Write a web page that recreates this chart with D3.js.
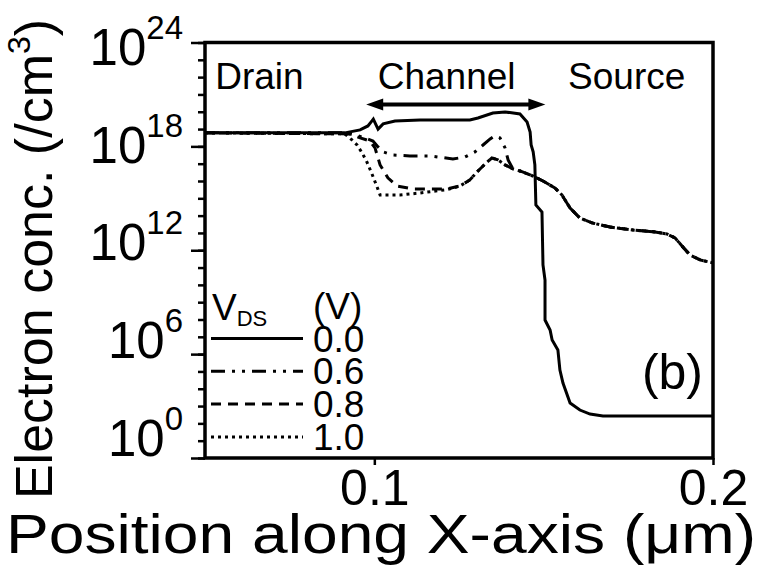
<!DOCTYPE html>
<html>
<head>
<meta charset="utf-8">
<script src="https://cdn.jsdelivr.net/npm/d3@7"></script>
<style>
  body { margin: 0; background: #fff; }
  text { font-family: "Liberation Sans", Arial, sans-serif; fill: #000; }
</style>
</head>
<body>
<svg id="chart" width="760" height="567"></svg>
<script>
// position (um), log10 of electron concentration (/cm^3)
var curveV00 = [[0.0500,18.78],[0.0913,18.78],[0.0958,18.95],[0.0981,19.18],[0.0993,19.47],[0.0997,19.57],
  [0.1011,19.00],[0.1026,19.30],[0.1061,19.47],[0.1135,19.53],[0.1282,19.53],[0.1306,19.64],[0.1350,19.93],
  [0.1386,19.99],[0.1430,19.87],[0.1451,19.41],[0.1460,18.83],[0.1463,18.08],[0.1469,17.68],[0.1474,16.93],
  [0.1477,14.62],[0.1495,14.21],[0.1498,11.15],[0.1504,10.28],[0.1504,7.97],[0.1519,7.39],[0.1525,6.82],
  [0.1542,6.24],[0.1548,5.08],[0.1557,4.33],[0.1578,3.18],[0.1607,2.77],[0.1637,2.54],[0.1675,2.43],[0.2000,2.43]];

var curveV06 = [[0.0500,18.78],[0.0913,18.78],[0.0943,18.66],[0.0972,18.49],[0.0996,18.31],[0.1011,17.97],
  [0.1026,17.68],[0.1055,17.50],[0.1105,17.45],[0.1164,17.45],[0.1232,17.27],[0.1268,17.39],[0.1297,17.68],
  [0.1321,18.08],[0.1342,18.43],[0.1356,18.61],[0.1371,18.49],[0.1386,17.91],[0.1395,17.22],[0.1409,16.70]];

var curveV08 = [[0.0500,18.78],[0.0928,18.72],[0.0958,18.49],[0.0987,18.31],[0.1002,17.91],[0.1017,16.93],
  [0.1040,16.18],[0.1067,15.71],[0.1114,15.54],[0.1214,15.54],[0.1253,15.71],[0.1282,16.06],[0.1303,16.52],
  [0.1327,16.98],[0.1347,17.33],[0.1365,17.22],[0.1386,16.93],[0.1409,16.70]];

var curveV10 = [[0.0500,18.78],[0.0913,18.72],[0.0934,18.37],[0.0949,18.08],[0.0964,17.62],[0.0978,17.10],
  [0.0993,16.41],[0.1008,15.66],[0.1017,15.19],[0.1076,15.19],[0.1135,15.31],[0.1214,15.50],[0.1253,15.71],
  [0.1282,16.06],[0.1303,16.52],[0.1327,16.98],[0.1347,17.33],[0.1365,17.22],[0.1386,16.93],[0.1409,16.70]];

// shared source-side tail of the biased curves
var tailBiased = [[0.1430,16.58],[0.1468,16.29],[0.1498,16.00],[0.1533,15.60],[0.1554,15.19],[0.1578,14.44],
  [0.1607,13.86],[0.1643,13.58],[0.1696,13.34],[0.1764,13.17],[0.1829,13.06],[0.1864,12.94],[0.1888,12.71],
  [0.1911,12.19],[0.1932,11.73],[0.1962,11.44],[0.2000,11.27]];

var vdsLabels = ["0.0", "0.6", "0.8", "1.0"];
var dashes = [null, "14,7,3,7,3,7", "10,7", "3,4"];
var yMajorExp = [0, 6, 12, 18, 24];
var yMinorExp = d3.range(0, 25);
var xTicks = [0.1, 0.2];
var regions = [{ name: "Drain", x: 0.0530 }, { name: "Channel", x: 0.1010 }, { name: "Source", x: 0.1572 }];
var channelSpan = [0.0976, 0.1505];

var series = [curveV00, curveV06.concat(tailBiased), curveV08.concat(tailBiased), curveV10.concat(tailBiased)];

var svg = d3.select("#chart");
var margin = { left: 205, right: 47, top: 42.5, bottom: 109 };
var width = 760 - margin.left - margin.right;
var height = 567 - margin.top - margin.bottom;

var x = d3.scaleLinear().domain([0.05, 0.2]).range([0, width]);
var y = d3.scaleLog().domain([1, 1e24]).range([height, 0]);

var g = svg.append("g").attr("transform", "translate(" + margin.left + "," + margin.top + ")");

g.append("clipPath").attr("id", "clip").append("rect").attr("width", width).attr("height", height);

// minor + major ticks on y
g.append("g").call(d3.axisLeft(y).tickValues(yMinorExp.map(e => Math.pow(10, e))).tickSize(7).tickFormat(""))
  .call(a => a.select(".domain").remove())
  .selectAll("line").attr("stroke-width", 2.5);
var yMaj = g.append("g").call(d3.axisLeft(y).tickValues(yMajorExp.map(e => Math.pow(10, e))).tickSize(14).tickFormat(""));
yMaj.select(".domain").remove();
yMaj.selectAll("line").attr("stroke-width", 2.5);

// labels sit a little higher toward the bottom, as in the original figure
var yl = g.append("g").selectAll("text").data(yMajorExp).enter().append("text")
  .attr("x", -22).attr("y", d => 22.5 + 0.94 * y(Math.pow(10, d)))
  .attr("text-anchor", "end").style("font-size", "51px");
yl.append("tspan").text("10");
yl.append("tspan").attr("dy", -26).style("font-size", "33px").text(d => d);

// x ticks
var xa = g.append("g").attr("transform", "translate(0," + height + ")")
  .call(d3.axisBottom(x).tickValues(xTicks).tickSize(7).tickFormat(d3.format(".1f")));
xa.select(".domain").remove();
xa.selectAll("line").attr("stroke-width", 2.5);
xa.selectAll("text").attr("dy", 0).attr("y", 47).style("font-size", "50px").attr("fill", "#000");

// curves
var line = d3.line().x(d => x(d[0])).y(d => y(Math.pow(10, d[1])));
g.append("g").attr("clip-path", "url(#clip)").selectAll("path").data(series).enter().append("path")
  .attr("d", line).attr("fill", "none").attr("stroke", "#000").attr("stroke-width", 3)
  .attr("stroke-dasharray", (d, i) => dashes[i]);

// frame
g.append("rect").attr("width", width).attr("height", height)
  .attr("fill", "none").attr("stroke", "#000").attr("stroke-width", 3.5);

// region labels
g.selectAll(".region").data(regions).enter().append("text").attr("class", "region")
  .attr("x", d => x(d.x)).attr("y", 46).style("font-size", "37px").text(d => d.name);

// channel arrow
var ay = 62, ax0 = x(channelSpan[0]), ax1 = x(channelSpan[1]);
g.append("line").attr("x1", ax0 + 10).attr("x2", ax1 - 10).attr("y1", ay).attr("y2", ay)
  .attr("stroke", "#000").attr("stroke-width", 4);
g.append("path").attr("d", "M" + ax0 + "," + ay + "l17,-6l0,12z");
g.append("path").attr("d", "M" + ax1 + "," + ay + "l-17,-6l0,12z");

// panel label
g.append("text").attr("x", width - 10).attr("y", 346).attr("text-anchor", "end")
  .style("font-size", "50px").text("(b)");

// legend
var leg = g.append("g");
var vt = leg.append("text").attr("x", 7).attr("y", 277).style("font-size", "37px");
vt.append("tspan").text("V");
vt.append("tspan").attr("dy", 6).style("font-size", "22px").text("DS");
leg.append("text").attr("x", 108).attr("y", 276).style("font-size", "37px").text("(V)");
var rows = leg.selectAll(".row").data(vdsLabels).enter().append("g")
  .attr("transform", (d, i) => "translate(0," + (296 + i * 32.8) + ")");
rows.append("line").attr("x1", 6).attr("x2", 98).attr("stroke", "#000").attr("stroke-width", 3)
  .attr("stroke-dasharray", (d, i) => dashes[i]);
rows.append("text").attr("x", 108).attr("y", 13).style("font-size", "37px").text(d => d);

// axis titles
svg.append("text").attr("x", 381).attr("y", 553).attr("text-anchor", "middle")
  .attr("textLength", 750).attr("lengthAdjust", "spacingAndGlyphs")
  .style("font-size", "56px").text("Position along X-axis (\u03bcm)");
var yt = svg.append("text").attr("transform", "translate(52,259) rotate(-90)")
  .attr("text-anchor", "middle").style("font-size", "52px");
yt.append("tspan").text("Electron conc. (/cm");
yt.append("tspan").attr("dy", -22).style("font-size", "32px").text("3");
yt.append("tspan").attr("dy", 22).text(")");
</script>
</body>
</html>
